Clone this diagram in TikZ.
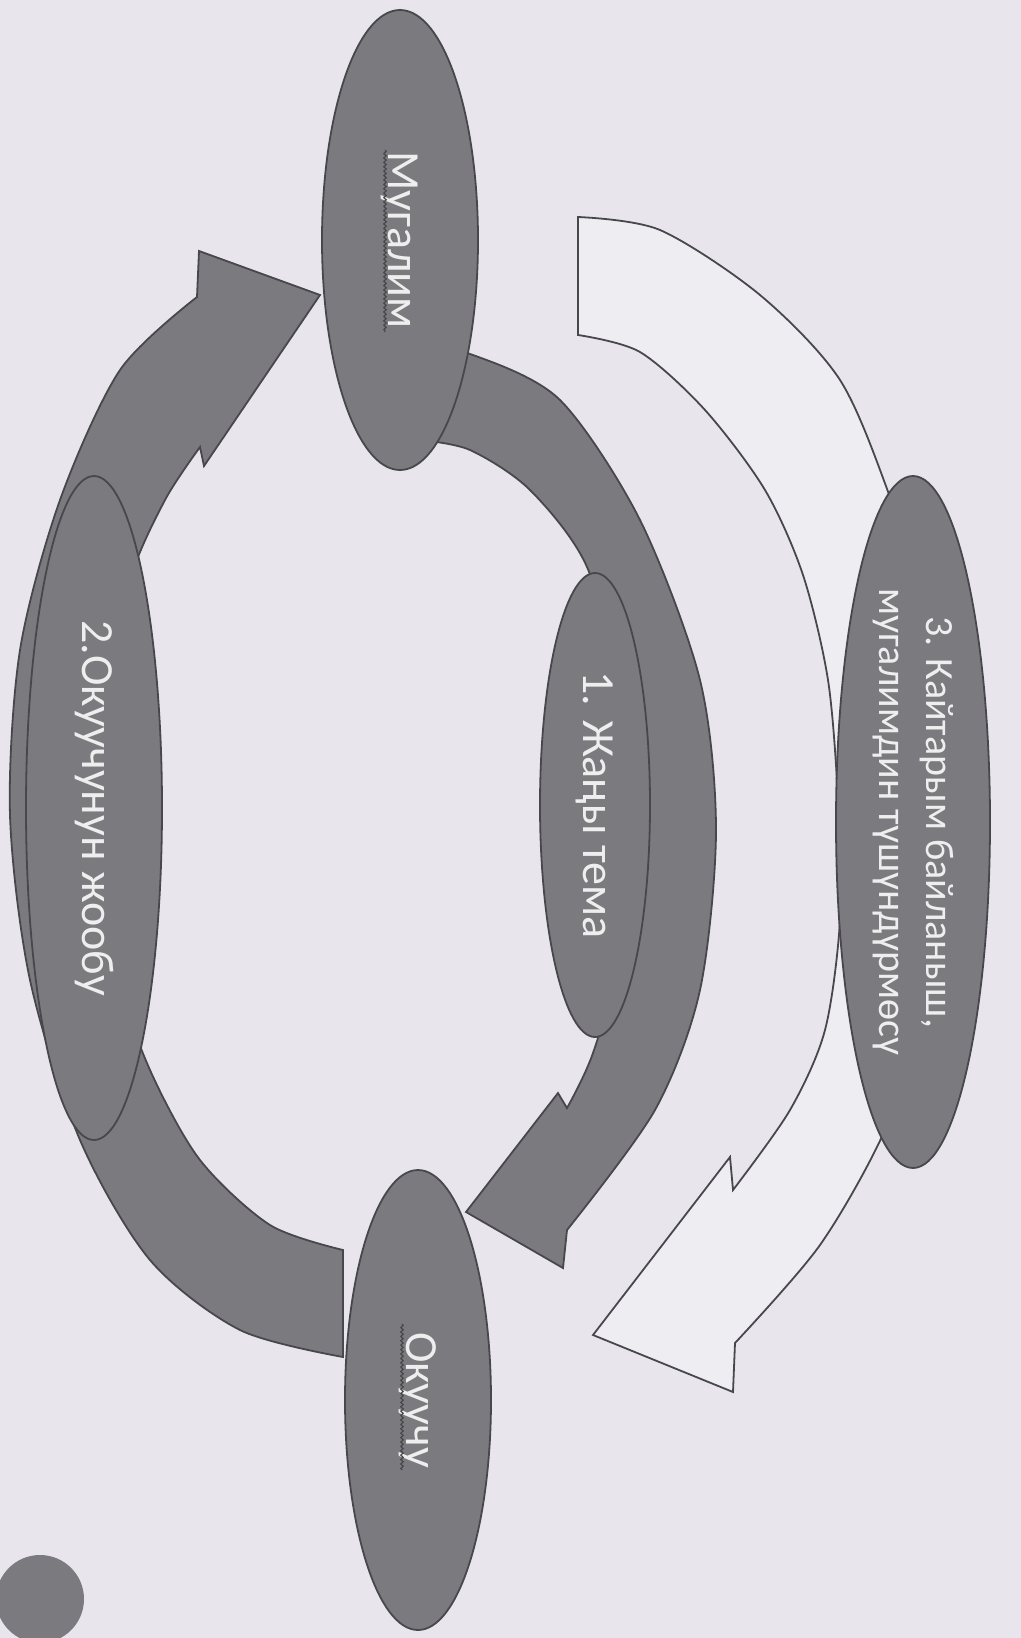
\documentclass[tikz,border=0pt]{standalone}
\usepackage{fontspec}
\setmainfont{Carlito}
\usepackage{tikz}
\usetikzlibrary{shapes.geometric,decorations.pathmorphing}
\definecolor{slideBack}{HTML}{E8E6EC}
\definecolor{slideGray}{HTML}{7B7B7F}
\definecolor{slideEdge}{HTML}{48484C}
\definecolor{slideText}{HTML}{EEEEEE}
\definecolor{slidePale}{HTML}{EEEDF1}
\tikzset{
  bubble/.style={ellipse, draw=slideEdge, line width=0.9pt, fill=slideGray, text=slideText, inner sep=0pt, align=center, rotate=-90, font=\fontsize{23}{27}\selectfont},
  ringarrow/.style={draw=slideEdge, line width=0.9pt, fill=slideGray},
  backarrow/.style={draw=slideEdge, line width=0.9pt, fill=slidePale},
  squiggle/.style={draw=slideEdge, line width=0.6pt, decorate, decoration={snake, amplitude=0.6pt, segment length=2.2pt}}
}
\begin{document}
\begin{tikzpicture}[x=0.5pt, y=-0.5pt]
\useasboundingbox (0,0) rectangle (1021,1638);
\fill[slideBack] (0,0) rectangle (1021,1638);
\path[backarrow] (578,217) -- plot[smooth] coordinates {(578,217) (660,230) (760,295) (840,380) (890,497) (940,650) (950,820) (930,1000) (885,1130) (820,1245) (735,1343)}
  -- (733,1392) -- (593,1335) -- (730,1157) -- (733,1190)
  -- plot[smooth] coordinates {(733,1190) (790,1110) (825,1030) (840,920) (838,800) (828,680) (803,575) (765,490) (705,410) (640,352) (578,335)} -- cycle;
\path[ringarrow] (420,348) -- plot[smooth] coordinates {(420,348) (473,355) (560,400) (640,520) (700,680) (716,830) (700,990) (655,1110) (567,1230)}
  -- (563,1268) -- (466,1212) -- (558,1093) -- (567,1108)
  -- plot[smooth] coordinates {(567,1108) (593,1053) (625,940) (635,820) (622,700) (587,567) (530,490) (470,450) (420,440)} -- cycle;
\path[ringarrow] (343,1250) -- (343,1357)
  -- plot[smooth] coordinates {(343,1357) (240,1330) (150,1260) (80,1140) (30,980) (10,815) (20,650) (60,500) (120,370) (197,297)}
  -- (199,251) -- (320,295) -- (204,466) -- (200,447)
  -- plot[smooth] coordinates {(200,447) (165,500) (130,580) (108,700) (105,850) (120,980) (150,1070) (200,1160) (270,1225) (343,1250)} -- cycle;
\node[bubble, minimum width=230pt, minimum height=78pt] (mugalim) at (400,240) {Мугалим};
\node[bubble, minimum width=232pt, minimum height=55pt] (zhanytema) at (595,805) {1. Жаңы тема};
\node[bubble, minimum width=332pt, minimum height=68pt] (zhoop) at (94,808) {2.Окуучунун жообу};
\node[bubble, minimum width=346pt, minimum height=77pt, font=\fontsize{20}{23.5}\selectfont] (kaitarym) at (913,822) {3. Кайтарым байланыш,\\мугалимдин түшүндүрмөсү};
\node[bubble, minimum width=230pt, minimum height=73pt] (okuuchu) at (418,1400) {Окуучу};
\draw[squiggle] ([xshift=-7.5pt, yshift=45pt]mugalim.center) -- ([xshift=-7.5pt, yshift=-46pt]mugalim.center);
\draw[squiggle] ([xshift=-8pt, yshift=38pt]okuuchu.center) -- ([xshift=-8pt, yshift=-35pt]okuuchu.center);
\fill[slideGray] (40,1599) circle[radius=22pt];
\end{tikzpicture}
\end{document}
